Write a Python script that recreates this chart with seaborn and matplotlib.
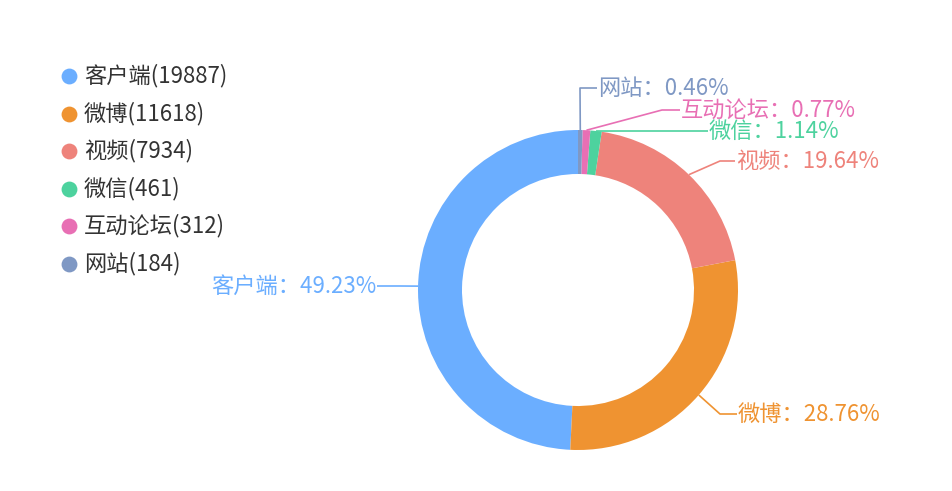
import matplotlib
matplotlib.use("Agg")
import matplotlib.pyplot as plt
import seaborn as sns
import numpy as np

# data
channels = ["客户端", "微博", "视频", "微信", "互动论坛", "网站"]
counts = [19887, 11618, 7934, 461, 312, 184]
colors = ["#6BAEFF", "#EF9331", "#EE837B", "#4DD29E", "#E86FB4", "#7F98C4"]

sns.set_theme(style="white")
plt.rcParams['font.family'] = ['Noto Sans CJK SC', 'DejaVu Sans']

W, H = 953, 491
fig = plt.figure(figsize=(W / 100, H / 100), dpi=100)
ax = fig.add_axes([0, 0, 1, 1])

cx, cy, R = 578, H - 290, 160
wedges, _ = ax.pie(counts, colors=colors, startangle=90, counterclock=True,
                   center=(cx, cy), radius=R,
                   wedgeprops=dict(width=44, linewidth=0))
ax.set_xlim(0, W)
ax.set_ylim(0, H)
ax.set_aspect("equal")
ax.axis("off")

total = sum(counts)

# label layout: elbow point, end of line, text side (pixels from top)
label_layout = {
    "网站": ((580, 88), (597, 88), "left"),
    "互动论坛": ((662, 110), (680, 110), "left"),
    "微信": ((650, 131), (708, 131), "left"),
    "视频": ((720, 161), (735, 161), "left"),
    "微博": ((720, 414), (737, 414), "left"),
    "客户端": ((400, 286), (377, 286), "right"),
}

for w, name, n, c in zip(wedges, channels, counts, colors):
    mid = np.deg2rad((w.theta1 + w.theta2) / 2)
    sx, sy = cx + R * np.cos(mid), cy + R * np.sin(mid)
    (ex, ey), (tx, ty), ha = label_layout[name]
    ey, ty = H - ey, H - ty
    ax.plot([sx, ex, tx], [sy, ey, ty], color=c, lw=1.2, solid_capstyle="butt")
    pct = n / total * 100
    ax.text(tx + (1 if ha == "left" else -1), ty, f"{name}：{pct:.2f}%",
            color=c, fontsize=16, ha=ha, va="center")

# legend
for i, (name, n, c) in enumerate(zip(channels, counts, colors)):
    y = H - (76 + i * 37.5)
    ax.scatter([69], [y], s=130, color=c, linewidths=0)
    ax.text(84, y, f"{name}({n})", color="#333333", fontsize=16,
            ha="left", va="center")

fig.savefig("out.png", dpi=100)
